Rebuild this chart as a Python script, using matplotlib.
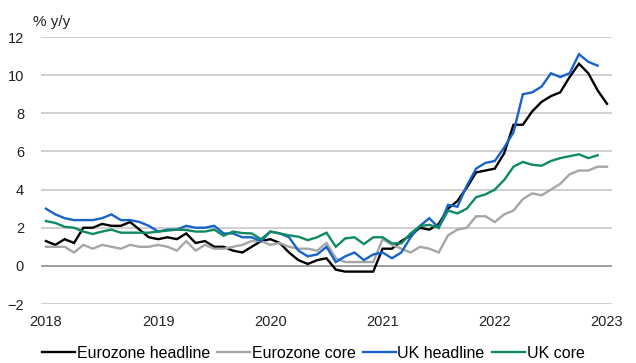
import matplotlib
matplotlib.use("Agg")
import matplotlib.pyplot as plt
import numpy as np

plt.rcParams['font.family'] = ['Liberation Sans', 'DejaVu Sans']

# monthly % y/y, Jan 2018 onwards
ez_headline = [1.3, 1.1, 1.4, 1.2, 2.0, 2.0, 2.2, 2.1, 2.1, 2.3, 1.9, 1.5,
               1.4, 1.5, 1.4, 1.7, 1.2, 1.3, 1.0, 1.0, 0.8, 0.7, 1.0, 1.3,
               1.4, 1.2, 0.7, 0.3, 0.1, 0.3, 0.4, -0.2, -0.3, -0.3, -0.3, -0.3,
               0.9, 0.9, 1.3, 1.6, 2.0, 1.9, 2.2, 3.0, 3.4, 4.1, 4.9, 5.0,
               5.1, 5.9, 7.4, 7.4, 8.1, 8.6, 8.9, 9.1, 9.9, 10.6, 10.1, 9.2,
               8.5]
ez_core = [1.0, 1.0, 1.0, 0.7, 1.1, 0.9, 1.1, 1.0, 0.9, 1.1, 1.0, 1.0,
           1.1, 1.0, 0.8, 1.3, 0.8, 1.1, 0.9, 0.9, 1.0, 1.1, 1.3, 1.3,
           1.1, 1.2, 1.0, 0.9, 0.9, 0.8, 1.2, 0.4, 0.2, 0.2, 0.2, 0.2,
           1.4, 1.1, 0.9, 0.7, 1.0, 0.9, 0.7, 1.6, 1.9, 2.0, 2.6, 2.6,
           2.3, 2.7, 2.9, 3.5, 3.8, 3.7, 4.0, 4.3, 4.8, 5.0, 5.0, 5.2,
           5.2]
uk_headline = [3.0, 2.7, 2.5, 2.4, 2.4, 2.4, 2.5, 2.7, 2.4, 2.4, 2.3, 2.1,
               1.8, 1.9, 1.9, 2.1, 2.0, 2.0, 2.1, 1.7, 1.7, 1.5, 1.5, 1.3,
               1.8, 1.7, 1.5, 0.8, 0.5, 0.6, 1.0, 0.2, 0.5, 0.7, 0.3, 0.6,
               0.7, 0.4, 0.7, 1.5, 2.1, 2.5, 2.0, 3.2, 3.1, 4.2, 5.1, 5.4,
               5.5, 6.2, 7.0, 9.0, 9.1, 9.4, 10.1, 9.9, 10.1, 11.1, 10.7, 10.5]
uk_core = [2.35, 2.25, 2.05, 2.0, 1.8, 1.67, 1.8, 1.9, 1.74, 1.74, 1.74, 1.74,
           1.8, 1.85, 1.9, 1.88, 1.8, 1.8, 1.9, 1.58, 1.8, 1.72, 1.7, 1.4,
           1.8, 1.7, 1.6, 1.53, 1.35, 1.5, 1.74, 1.0, 1.44, 1.5, 1.14, 1.5,
           1.5, 1.18, 1.18, 1.7, 2.09, 2.15, 2.0, 2.9, 2.75, 3.0, 3.6, 3.75,
           4.0, 4.5, 5.2, 5.45, 5.3, 5.25, 5.5, 5.65, 5.75, 5.85, 5.65, 5.8]

series = [
    ("Eurozone headline", ez_headline, "#000000"),
    ("Eurozone core", ez_core, "#a6a6a6"),
    ("UK headline", uk_headline, "#1763c9"),
    ("UK core", uk_core, "#0f8a64"),
]
years = [2018, 2019, 2020, 2021, 2022, 2023]

fig = plt.figure(figsize=(6.36, 3.63), dpi=100)
ax = fig.add_axes([0.064, 0.1625, 0.8978, 0.7355])

for name, vals, col in series:
    x = 2018 + np.arange(len(vals)) / 12
    ax.plot(x, vals, color=col, lw=1.7, label=name, solid_joinstyle='miter')

ax.set_xlim(2017.953, 2023.042)
ax.set_ylim(-2, 12)
ax.set_yticks(range(-2, 13, 2))
ax.set_xticks(years)
ax.set_xticklabels([str(y) for y in years])
for v in range(-2, 13, 2):
    ax.axhline(v, color="#8c8c8c" if v == 0 else "#c8c8c8", lw=1.2, zorder=0)
for s in ax.spines.values():
    s.set_visible(False)
ax.tick_params(length=0, labelsize=10.5, colors="#222222")
ax.tick_params(axis='y', pad=12)
ax.tick_params(axis='x', pad=8)

fig.text(33 / 636, 1 - 22 / 363, "% y/y", fontsize=11, va='center', ha='left', color="#222222")

fig.legend(loc='center left', bbox_to_anchor=(42 / 636, 1 - 353 / 363), ncol=4,
           frameon=False, fontsize=11.5, handlelength=2.05, handletextpad=0.12,
           columnspacing=0.45, borderaxespad=0, borderpad=0)

fig.savefig("out.png", dpi=100)
